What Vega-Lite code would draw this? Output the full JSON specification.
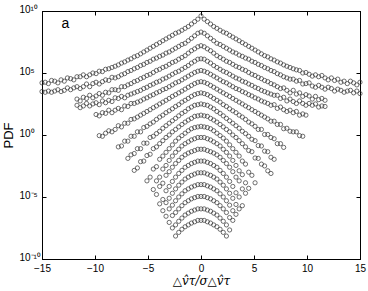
{
"$schema":"https://vega.github.io/schema/vega-lite/v6.json",
"width":318,"height":248,"autosize":"none",
"padding":{"left":42,"top":11,"right":8,"bottom":32},
"background":"white",
"config":{"view":{"stroke":"black","strokeWidth":1},"font":"Liberation Sans",
"axis":{"domainColor":"black","tickColor":"black","labelColor":"black","titleColor":"black","grid":false,"labelFont":"Liberation Sans","labelFontSize":10,"tickSize":-4,"tickWidth":1,"domainWidth":1,"labelOverlap":false,"labelFlush":false,"labelBound":false}},
"layer":[
{"data":{"values":[
{"x":-15,"y":1.6e4},{"x":-14.7,"y":1.8e4},{"x":-14.4,"y":1.4e4},{"x":-14.1,"y":2.5e4},{"x":-13.8,"y":2.2e4},{"x":-13.5,"y":1.6e4},{"x":-13.2,"y":2.8e4},{"x":-12.9,"y":2.2e4},{"x":-12.6,"y":4e4},{"x":-12.3,"y":3.5e4},{"x":-12,"y":2.8e4},{"x":-11.7,"y":5e4},{"x":-11.4,"y":5e4},{"x":-11.1,"y":7.1e4},{"x":-10.8,"y":5e4},{"x":-10.5,"y":7.1e4},{"x":-10.2,"y":1e5},{"x":-9.9,"y":8.9e4},{"x":-9.6,"y":1.4e5},{"x":-9.3,"y":1.3e5},{"x":-9,"y":2e5},{"x":-8.7,"y":2.2e5},{"x":-8.4,"y":2.8e5},{"x":-8.1,"y":3.5e5},{"x":-7.8,"y":4.5e5},{"x":-7.5,"y":6.3e5},{"x":-7.2,"y":7.9e5},{"x":-6.9,"y":1.1e6},{"x":-6.6,"y":1.4e6},{"x":-6.3,"y":2e6},{"x":-6,"y":2.5e6},{"x":-5.7,"y":3.5e6},{"x":-5.4,"y":5e6},{"x":-5.1,"y":7.1e6},{"x":-4.8,"y":1e7},{"x":-4.5,"y":1.4e7},{"x":-4.2,"y":2e7},{"x":-3.9,"y":2.8e7},{"x":-3.6,"y":4e7},{"x":-3.3,"y":5.6e7},{"x":-3,"y":7.9e7},{"x":-2.7,"y":1.1e8},{"x":-2.4,"y":1.6e8},{"x":-2.1,"y":2e8},{"x":-1.8,"y":2.8e8},{"x":-1.5,"y":4e8},{"x":-1.2,"y":5.6e8},{"x":-0.9,"y":8.9e8},{"x":-0.6,"y":1.4e9},{"x":-0.3,"y":2.2e9},{"x":0,"y":4e9},
{"x":0.3,"y":2.2e9},{"x":0.6,"y":1.4e9},{"x":0.9,"y":8.9e8},{"x":1.2,"y":5.6e8},{"x":1.5,"y":4e8},{"x":1.8,"y":2.8e8},{"x":2.1,"y":2e8},{"x":2.4,"y":1.6e8},{"x":2.7,"y":1.1e8},{"x":3,"y":7.9e7},{"x":3.3,"y":5.6e7},{"x":3.6,"y":4e7},{"x":3.9,"y":2.8e7},{"x":4.2,"y":2e7},{"x":4.5,"y":1.4e7},{"x":4.8,"y":1e7},{"x":5.1,"y":7.1e6},{"x":5.4,"y":5e6},{"x":5.7,"y":3.5e6},{"x":6,"y":2.5e6},{"x":6.3,"y":2e6},{"x":6.6,"y":1.4e6},{"x":6.9,"y":1.1e6},{"x":7.2,"y":7.9e5},{"x":7.5,"y":6.3e5},{"x":7.8,"y":4.5e5},{"x":8.1,"y":3.5e5},{"x":8.4,"y":2.8e5},{"x":8.7,"y":2.2e5},{"x":9,"y":1.8e5},{"x":9.3,"y":1.6e5},{"x":9.6,"y":1e5},{"x":9.9,"y":1.1e5},{"x":10.2,"y":7.9e4},{"x":10.5,"y":5.6e4},{"x":10.8,"y":7.1e4},{"x":11.1,"y":5e4},{"x":11.4,"y":6.3e4},{"x":11.7,"y":4e4},{"x":12,"y":2.8e4},{"x":12.3,"y":4e4},{"x":12.6,"y":2.5e4},{"x":12.9,"y":3.2e4},{"x":13.2,"y":1.8e4},{"x":13.5,"y":2.2e4},{"x":13.8,"y":1.4e4},{"x":14.1,"y":2.2e4},{"x":14.4,"y":1.6e4},{"x":14.7,"y":1.1e4},{"x":15,"y":1.8e4},

{"x":-15,"y":3.2e3},{"x":-14.7,"y":2.8e3},{"x":-14.4,"y":3.5e3},{"x":-14.1,"y":2.8e3},{"x":-13.8,"y":3.5e3},{"x":-13.5,"y":4.5e3},{"x":-13.2,"y":3.2e3},{"x":-12.9,"y":4e3},{"x":-12.6,"y":6.3e3},{"x":-12.3,"y":4.5e3},{"x":-12,"y":6.3e3},{"x":-11.7,"y":7.9e3},{"x":-11.4,"y":5.6e3},{"x":-11.1,"y":7.9e3},{"x":-10.8,"y":1.3e4},{"x":-10.5,"y":7.9e3},{"x":-10.2,"y":1.4e4},{"x":-9.9,"y":1.8e4},{"x":-9.6,"y":1.3e4},{"x":-9.3,"y":2e4},{"x":-9,"y":2.8e4},{"x":-8.7,"y":2.5e4},{"x":-8.4,"y":4.5e4},{"x":-8.1,"y":4e4},{"x":-7.8,"y":5e4},{"x":-7.5,"y":7.1e4},{"x":-7.2,"y":8.9e4},{"x":-6.9,"y":1.3e5},{"x":-6.6,"y":1.6e5},{"x":-6.3,"y":2.2e5},{"x":-6,"y":2.8e5},{"x":-5.7,"y":4e5},{"x":-5.4,"y":5e5},{"x":-5.1,"y":7.1e5},{"x":-4.8,"y":8.9e5},{"x":-4.5,"y":1.3e6},{"x":-4.2,"y":1.6e6},{"x":-3.9,"y":2.2e6},{"x":-3.6,"y":2.8e6},{"x":-3.3,"y":4e6},{"x":-3,"y":5e6},{"x":-2.7,"y":7.1e6},{"x":-2.4,"y":1e7},{"x":-2.1,"y":1.4e7},{"x":-1.8,"y":2e7},{"x":-1.5,"y":2.5e7},{"x":-1.2,"y":4e7},{"x":-0.9,"y":6.3e7},{"x":-0.6,"y":1e8},{"x":-0.3,"y":1.6e8},{"x":0,"y":2e8},
{"x":0.3,"y":1.6e8},{"x":0.6,"y":1e8},{"x":0.9,"y":6.3e7},{"x":1.2,"y":4e7},{"x":1.5,"y":2.5e7},{"x":1.8,"y":2e7},{"x":2.1,"y":1.4e7},{"x":2.4,"y":1e7},{"x":2.7,"y":7.1e6},{"x":3,"y":5e6},{"x":3.3,"y":4e6},{"x":3.6,"y":2.8e6},{"x":3.9,"y":2.2e6},{"x":4.2,"y":1.6e6},{"x":4.5,"y":1.3e6},{"x":4.8,"y":8.9e5},{"x":5.1,"y":7.1e5},{"x":5.4,"y":5e5},{"x":5.7,"y":4e5},{"x":6,"y":2.8e5},{"x":6.3,"y":2.2e5},{"x":6.6,"y":1.6e5},{"x":6.9,"y":1.3e5},{"x":7.2,"y":8.9e4},{"x":7.5,"y":7.1e4},{"x":7.8,"y":5e4},{"x":8.1,"y":4e4},{"x":8.4,"y":3.2e4},{"x":8.7,"y":3.2e4},{"x":9,"y":2.2e4},{"x":9.3,"y":2.5e4},{"x":9.6,"y":1.3e4},{"x":9.9,"y":1.4e4},{"x":10.2,"y":1.6e4},{"x":10.5,"y":8.9e3},{"x":10.8,"y":7.1e3},{"x":11.1,"y":1e4},{"x":11.4,"y":7.1e3},{"x":11.7,"y":5e3},{"x":12,"y":7.1e3},{"x":12.3,"y":5.6e3},{"x":12.6,"y":3.5e3},{"x":12.9,"y":5e3},{"x":13.2,"y":4e3},{"x":13.5,"y":2.8e3},{"x":13.8,"y":3.5e3},{"x":14.1,"y":4e3},{"x":14.4,"y":2.5e3},{"x":14.7,"y":3.5e3},{"x":15,"y":2.2e3},

{"x":-11.7,"y":7.9e2},{"x":-11.4,"y":5.6e2},{"x":-11.1,"y":1.1e3},{"x":-10.8,"y":8.9e2},{"x":-10.5,"y":1.6e3},{"x":-10.2,"y":1e3},{"x":-9.9,"y":1.4e3},{"x":-9.6,"y":2.2e3},{"x":-9.3,"y":1.6e3},{"x":-9,"y":2.8e3},{"x":-8.7,"y":2.5e3},{"x":-8.4,"y":4.5e3},{"x":-8.1,"y":4.5e3},{"x":-7.8,"y":4e3},{"x":-7.5,"y":7.9e3},{"x":-7.2,"y":7.9e3},{"x":-6.9,"y":1.1e4},{"x":-6.6,"y":1.4e4},{"x":-6.3,"y":2e4},{"x":-6,"y":2.5e4},{"x":-5.7,"y":3.5e4},{"x":-5.4,"y":4.5e4},{"x":-5.1,"y":6.3e4},{"x":-4.8,"y":7.9e4},{"x":-4.5,"y":1.1e5},{"x":-4.2,"y":1.6e5},{"x":-3.9,"y":2e5},{"x":-3.6,"y":2.8e5},{"x":-3.3,"y":3.5e5},{"x":-3,"y":5e5},{"x":-2.7,"y":7.1e5},{"x":-2.4,"y":8.9e5},{"x":-2.1,"y":1.3e6},{"x":-1.8,"y":1.8e6},{"x":-1.5,"y":2.5e6},{"x":-1.2,"y":4e6},{"x":-0.9,"y":6.3e6},{"x":-0.6,"y":8.9e6},{"x":-0.3,"y":1.3e7},{"x":0,"y":1.6e7},
{"x":0.3,"y":1.3e7},{"x":0.6,"y":8.9e6},{"x":0.9,"y":6.3e6},{"x":1.2,"y":4e6},{"x":1.5,"y":2.5e6},{"x":1.8,"y":1.8e6},{"x":2.1,"y":1.3e6},{"x":2.4,"y":8.9e5},{"x":2.7,"y":7.1e5},{"x":3,"y":5e5},{"x":3.3,"y":3.5e5},{"x":3.6,"y":2.8e5},{"x":3.9,"y":2e5},{"x":4.2,"y":1.6e5},{"x":4.5,"y":1.1e5},{"x":4.8,"y":7.9e4},{"x":5.1,"y":6.3e4},{"x":5.4,"y":4.5e4},{"x":5.7,"y":3.5e4},{"x":6,"y":2.5e4},{"x":6.3,"y":2e4},{"x":6.6,"y":1.4e4},{"x":6.9,"y":1.1e4},{"x":7.2,"y":7.9e3},{"x":7.5,"y":5.6e3},{"x":7.8,"y":6.3e3},{"x":8.1,"y":4e3},{"x":8.4,"y":2.5e3},{"x":8.7,"y":4e3},{"x":9,"y":2e3},{"x":9.3,"y":2.5e3},{"x":9.6,"y":1.3e3},{"x":9.9,"y":1.8e3},{"x":10.2,"y":1.4e3},{"x":10.5,"y":7.9e2},{"x":10.8,"y":1.3e3},{"x":11.1,"y":7.1e2},{"x":11.4,"y":8.9e2},{"x":11.7,"y":6.3e2},

{"x":-11.7,"y":2.5e2},{"x":-11.4,"y":1.6e2},{"x":-11.1,"y":2.2e2},{"x":-10.8,"y":3.5e2},{"x":-10.5,"y":2.2e2},{"x":-10.2,"y":3.2e2},{"x":-9.9,"y":4e2},{"x":-9.6,"y":2.8e2},{"x":-9.3,"y":5.6e2},{"x":-9,"y":4e2},{"x":-8.7,"y":6.3e2},{"x":-8.4,"y":5e2},{"x":-8.1,"y":1e3},{"x":-7.8,"y":8.9e2},{"x":-7.5,"y":1.3e3},{"x":-7.2,"y":1e3},{"x":-6.9,"y":1.6e3},{"x":-6.6,"y":2e3},{"x":-6.3,"y":2.5e3},{"x":-6,"y":3.2e3},{"x":-5.7,"y":4e3},{"x":-5.4,"y":5.6e3},{"x":-5.1,"y":7.1e3},{"x":-4.8,"y":1e4},{"x":-4.5,"y":1.3e4},{"x":-4.2,"y":1.8e4},{"x":-3.9,"y":2.2e4},{"x":-3.6,"y":3.2e4},{"x":-3.3,"y":4e4},{"x":-3,"y":5.6e4},{"x":-2.7,"y":7.9e4},{"x":-2.4,"y":1.1e5},{"x":-2.1,"y":1.4e5},{"x":-1.8,"y":2e5},{"x":-1.5,"y":2.8e5},{"x":-1.2,"y":4e5},{"x":-0.9,"y":6.3e5},{"x":-0.6,"y":8.9e5},{"x":-0.3,"y":1.3e6},{"x":0,"y":1.4e6},
{"x":0.3,"y":1.3e6},{"x":0.6,"y":8.9e5},{"x":0.9,"y":6.3e5},{"x":1.2,"y":4e5},{"x":1.5,"y":2.8e5},{"x":1.8,"y":2e5},{"x":2.1,"y":1.4e5},{"x":2.4,"y":1.1e5},{"x":2.7,"y":7.9e4},{"x":3,"y":5.6e4},{"x":3.3,"y":4e4},{"x":3.6,"y":3.2e4},{"x":3.9,"y":2.2e4},{"x":4.2,"y":1.8e4},{"x":4.5,"y":1.3e4},{"x":4.8,"y":1e4},{"x":5.1,"y":7.1e3},{"x":5.4,"y":5.6e3},{"x":5.7,"y":4e3},{"x":6,"y":3.2e3},{"x":6.3,"y":2.5e3},{"x":6.6,"y":2e3},{"x":6.9,"y":1.6e3},{"x":7.2,"y":1.6e3},{"x":7.5,"y":8.9e2},{"x":7.8,"y":1.1e3},{"x":8.1,"y":5.6e2},{"x":8.4,"y":7.9e2},{"x":8.7,"y":5e2},{"x":9,"y":3.5e2},{"x":9.3,"y":5.6e2},{"x":9.6,"y":3.5e2},{"x":9.9,"y":2.5e2},{"x":10.2,"y":3.5e2},{"x":10.5,"y":2.5e2},{"x":10.8,"y":3.2e2},{"x":11.1,"y":1.8e2},{"x":11.4,"y":2.2e2},{"x":11.7,"y":2e2},

{"x":-9.9,"y":4.5e1},{"x":-9.6,"y":3.5e1},{"x":-9.3,"y":6.3e1},{"x":-9,"y":5.6e1},{"x":-8.7,"y":1e2},{"x":-8.4,"y":6.3e1},{"x":-8.1,"y":1e2},{"x":-7.8,"y":1.4e2},{"x":-7.5,"y":1.1e2},{"x":-7.2,"y":2.2e2},{"x":-6.9,"y":2e2},{"x":-6.6,"y":3.5e2},{"x":-6.3,"y":3.5e2},{"x":-6,"y":4.5e2},{"x":-5.7,"y":5.6e2},{"x":-5.4,"y":7.9e2},{"x":-5.1,"y":1e3},{"x":-4.8,"y":1.4e3},{"x":-4.5,"y":1.8e3},{"x":-4.2,"y":2.5e3},{"x":-3.9,"y":3.2e3},{"x":-3.6,"y":4.5e3},{"x":-3.3,"y":5.6e3},{"x":-3,"y":7.9e3},{"x":-2.7,"y":1.1e4},{"x":-2.4,"y":1.6e4},{"x":-2.1,"y":2e4},{"x":-1.8,"y":2.8e4},{"x":-1.5,"y":4e4},{"x":-1.2,"y":5.6e4},{"x":-0.9,"y":7.9e4},{"x":-0.6,"y":1.1e5},{"x":-0.3,"y":1.4e5},{"x":0,"y":1.6e5},
{"x":0.3,"y":1.4e5},{"x":0.6,"y":1.1e5},{"x":0.9,"y":7.9e4},{"x":1.2,"y":5.6e4},{"x":1.5,"y":4e4},{"x":1.8,"y":2.8e4},{"x":2.1,"y":2e4},{"x":2.4,"y":1.6e4},{"x":2.7,"y":1.1e4},{"x":3,"y":7.9e3},{"x":3.3,"y":5.6e3},{"x":3.6,"y":4.5e3},{"x":3.9,"y":3.2e3},{"x":4.2,"y":2.5e3},{"x":4.5,"y":1.8e3},{"x":4.8,"y":1.4e3},{"x":5.1,"y":1e3},{"x":5.4,"y":7.9e2},{"x":5.7,"y":5.6e2},{"x":6,"y":4.5e2},{"x":6.3,"y":3.5e2},{"x":6.6,"y":2.5e2},{"x":6.9,"y":2.8e2},{"x":7.2,"y":1.4e2},{"x":7.5,"y":1.8e2},{"x":7.8,"y":1.1e2},{"x":8.1,"y":7.9e1},{"x":8.4,"y":1e2},{"x":8.7,"y":6.3e1},{"x":9,"y":7.9e1},{"x":9.3,"y":4e1},{"x":9.6,"y":5e1},{"x":9.9,"y":4e1},

{"x":-9.6,"y":8.9e-1},{"x":-9.3,"y":7.9e-1},{"x":-9,"y":1.4},{"x":-8.7,"y":2.2},{"x":-8.4,"y":1.8},{"x":-8.1,"y":2.8},{"x":-7.8,"y":5.6},{"x":-7.5,"y":4.5},{"x":-7.2,"y":8.9},{"x":-6.9,"y":8.9},{"x":-6.6,"y":1.8e1},{"x":-6.3,"y":2e1},{"x":-6,"y":2.8e1},{"x":-5.7,"y":4e1},{"x":-5.4,"y":5.6e1},{"x":-5.1,"y":7.9e1},{"x":-4.8,"y":1.1e2},{"x":-4.5,"y":1.6e2},{"x":-4.2,"y":2.2e2},{"x":-3.9,"y":3.2e2},{"x":-3.6,"y":4.5e2},{"x":-3.3,"y":6.3e2},{"x":-3,"y":8.9e2},{"x":-2.7,"y":1.3e3},{"x":-2.4,"y":1.8e3},{"x":-2.1,"y":2.5e3},{"x":-1.8,"y":3.5e3},{"x":-1.5,"y":5e3},{"x":-1.2,"y":7.1e3},{"x":-0.9,"y":1e4},{"x":-0.6,"y":1.4e4},{"x":-0.3,"y":1.8e4},{"x":0,"y":2e4},
{"x":0.3,"y":1.8e4},{"x":0.6,"y":1.4e4},{"x":0.9,"y":1e4},{"x":1.2,"y":7.1e3},{"x":1.5,"y":5e3},{"x":1.8,"y":3.5e3},{"x":2.1,"y":2.5e3},{"x":2.4,"y":1.8e3},{"x":2.7,"y":1.3e3},{"x":3,"y":8.9e2},{"x":3.3,"y":6.3e2},{"x":3.6,"y":4.5e2},{"x":3.9,"y":3.2e2},{"x":4.2,"y":2.2e2},{"x":4.5,"y":1.6e2},{"x":4.8,"y":1.1e2},{"x":5.1,"y":7.9e1},{"x":5.4,"y":5.6e1},{"x":5.7,"y":4e1},{"x":6,"y":2.8e1},{"x":6.3,"y":2e1},{"x":6.6,"y":1.3e1},{"x":6.9,"y":1.3e1},{"x":7.2,"y":7.1},{"x":7.5,"y":7.1},{"x":7.8,"y":3.2},{"x":8.1,"y":3.5},{"x":8.4,"y":2},{"x":8.7,"y":1.8},{"x":9,"y":1.8},{"x":9.3,"y":8.9e-1},{"x":9.6,"y":7.9e-1},

{"x":-7.8,"y":1.1e-1},{"x":-7.5,"y":1.3e-1},{"x":-7.2,"y":3.2e-1},{"x":-6.9,"y":3.2e-1},{"x":-6.6,"y":7.9e-1},{"x":-6.3,"y":7.9e-1},{"x":-6,"y":1.8},{"x":-5.7,"y":1.8},{"x":-5.4,"y":4},{"x":-5.1,"y":5},{"x":-4.8,"y":7.9},{"x":-4.5,"y":1.1e1},{"x":-4.2,"y":1.8e1},{"x":-3.9,"y":2.8e1},{"x":-3.6,"y":4e1},{"x":-3.3,"y":6.3e1},{"x":-3,"y":8.9e1},{"x":-2.7,"y":1.3e2},{"x":-2.4,"y":2e2},{"x":-2.1,"y":2.8e2},{"x":-1.8,"y":4.5e2},{"x":-1.5,"y":6.3e2},{"x":-1.2,"y":8.9e2},{"x":-0.9,"y":1.3e3},{"x":-0.6,"y":1.8e3},{"x":-0.3,"y":2.2e3},{"x":0,"y":2.5e3},
{"x":0.3,"y":2.2e3},{"x":0.6,"y":1.8e3},{"x":0.9,"y":1.3e3},{"x":1.2,"y":8.9e2},{"x":1.5,"y":6.3e2},{"x":1.8,"y":4.5e2},{"x":2.1,"y":2.8e2},{"x":2.4,"y":2e2},{"x":2.7,"y":1.3e2},{"x":3,"y":8.9e1},{"x":3.3,"y":6.3e1},{"x":3.6,"y":4e1},{"x":3.9,"y":2.8e1},{"x":4.2,"y":1.8e1},{"x":4.5,"y":1.1e1},{"x":4.8,"y":7.9},{"x":5.1,"y":5},{"x":5.4,"y":2.8},{"x":5.7,"y":2.8},{"x":6,"y":1.1},{"x":6.3,"y":1.1},{"x":6.6,"y":6.3e-1},{"x":6.9,"y":5e-1},{"x":7.2,"y":2e-1},{"x":7.5,"y":2e-1},{"x":7.8,"y":1e-1},

{"x":-6.9,"y":1.3e-2},{"x":-6.6,"y":2.5e-2},{"x":-6.3,"y":3.2e-2},{"x":-6,"y":7.9e-2},{"x":-5.7,"y":7.9e-2},{"x":-5.4,"y":2.2e-1},{"x":-5.1,"y":2.2e-1},{"x":-4.8,"y":6.3e-1},{"x":-4.5,"y":7.9e-1},{"x":-4.2,"y":1.3},{"x":-3.9,"y":2},{"x":-3.6,"y":3.5},{"x":-3.3,"y":5.6},{"x":-3,"y":8.9},{"x":-2.7,"y":1.4e1},{"x":-2.4,"y":2.2e1},{"x":-2.1,"y":3.5e1},{"x":-1.8,"y":5.6e1},{"x":-1.5,"y":7.9e1},{"x":-1.2,"y":1.3e2},{"x":-0.9,"y":1.8e2},{"x":-0.6,"y":2.5e2},{"x":-0.3,"y":2.8e2},{"x":0,"y":3.2e2},
{"x":0.3,"y":2.8e2},{"x":0.6,"y":2.5e2},{"x":0.9,"y":1.8e2},{"x":1.2,"y":1.3e2},{"x":1.5,"y":7.9e1},{"x":1.8,"y":5.6e1},{"x":2.1,"y":3.5e1},{"x":2.4,"y":2.2e1},{"x":2.7,"y":1.4e1},{"x":3,"y":8.9},{"x":3.3,"y":5.6},{"x":3.6,"y":3.5},{"x":3.9,"y":2},{"x":4.2,"y":1.3},{"x":4.5,"y":7.9e-1},{"x":4.8,"y":4.5e-1},{"x":5.1,"y":3.5e-1},{"x":5.4,"y":1.4e-1},{"x":5.7,"y":1.3e-1},{"x":6,"y":5e-2},{"x":6.3,"y":4.5e-2},{"x":6.6,"y":1.6e-2},{"x":6.9,"y":1.1e-2},

{"x":-6.3,"y":1.4e-3},{"x":-6,"y":2.2e-3},{"x":-5.7,"y":7.1e-3},{"x":-5.4,"y":7.9e-3},{"x":-5.1,"y":2.2e-2},{"x":-4.8,"y":2.8e-2},{"x":-4.5,"y":7.9e-2},{"x":-4.2,"y":1.1e-1},{"x":-3.9,"y":2e-1},{"x":-3.6,"y":3.5e-1},{"x":-3.3,"y":6.3e-1},{"x":-3,"y":1},{"x":-2.7,"y":1.8},{"x":-2.4,"y":2.8},{"x":-2.1,"y":4.5},{"x":-1.8,"y":7.1},{"x":-1.5,"y":1.1e1},{"x":-1.2,"y":1.6e1},{"x":-0.9,"y":2.2e1},{"x":-0.6,"y":3.2e1},{"x":-0.3,"y":3.5e1},{"x":0,"y":4e1},
{"x":0.3,"y":3.5e1},{"x":0.6,"y":3.2e1},{"x":0.9,"y":2.2e1},{"x":1.2,"y":1.6e1},{"x":1.5,"y":1.1e1},{"x":1.8,"y":7.1},{"x":2.1,"y":4.5},{"x":2.4,"y":2.8},{"x":2.7,"y":1.8},{"x":3,"y":1},{"x":3.3,"y":6.3e-1},{"x":3.6,"y":3.5e-1},{"x":3.9,"y":2e-1},{"x":4.2,"y":1.1e-1},{"x":4.5,"y":5.6e-2},{"x":4.8,"y":4.5e-2},{"x":5.1,"y":1.4e-2},{"x":5.4,"y":1.3e-2},{"x":5.7,"y":4.5e-3},{"x":6,"y":3.2e-3},{"x":6.3,"y":1.3e-3},{"x":6.6,"y":7.9e-4},

{"x":-5.1,"y":2e-4},{"x":-4.8,"y":4e-4},{"x":-4.5,"y":1.8e-3},{"x":-4.2,"y":2.8e-3},{"x":-3.9,"y":1.1e-2},{"x":-3.6,"y":2e-2},{"x":-3.3,"y":4e-2},{"x":-3,"y":7.9e-2},{"x":-2.7,"y":1.6e-1},{"x":-2.4,"y":3.2e-1},{"x":-2.1,"y":5.6e-1},{"x":-1.8,"y":8.9e-1},{"x":-1.5,"y":1.4},{"x":-1.2,"y":2.2},{"x":-0.9,"y":3.2},{"x":-0.6,"y":4},{"x":-0.3,"y":4.5},{"x":0,"y":5},
{"x":0.3,"y":4.5},{"x":0.6,"y":4},{"x":0.9,"y":3.2},{"x":1.2,"y":2.2},{"x":1.5,"y":1.4},{"x":1.8,"y":8.9e-1},{"x":2.1,"y":5.6e-1},{"x":2.4,"y":3.2e-1},{"x":2.7,"y":1.6e-1},{"x":3,"y":7.9e-2},{"x":3.3,"y":4e-2},{"x":3.6,"y":2e-2},{"x":3.9,"y":7.9e-3},{"x":4.2,"y":4.5e-3},{"x":4.5,"y":1e-3},{"x":4.8,"y":5.6e-4},{"x":5.1,"y":1.4e-4},

{"x":-4.5,"y":4e-5},{"x":-4.2,"y":2e-4},{"x":-3.9,"y":4e-4},{"x":-3.6,"y":1.8e-3},{"x":-3.3,"y":3.5e-3},{"x":-3,"y":8.9e-3},{"x":-2.7,"y":2e-2},{"x":-2.4,"y":4e-2},{"x":-2.1,"y":7.1e-2},{"x":-1.8,"y":1.3e-1},{"x":-1.5,"y":2e-1},{"x":-1.2,"y":2.8e-1},{"x":-0.9,"y":4e-1},{"x":-0.6,"y":5e-1},{"x":-0.3,"y":6.3e-1},{"x":0,"y":6.3e-1},
{"x":0.3,"y":6.3e-1},{"x":0.6,"y":5e-1},{"x":0.9,"y":4e-1},{"x":1.2,"y":2.8e-1},{"x":1.5,"y":2e-1},{"x":1.8,"y":1.3e-1},{"x":2.1,"y":7.1e-2},{"x":2.4,"y":4e-2},{"x":2.7,"y":2e-2},{"x":3,"y":8.9e-3},{"x":3.3,"y":3.5e-3},{"x":3.6,"y":1.3e-3},{"x":3.9,"y":6.3e-4},{"x":4.2,"y":1.4e-4},{"x":4.5,"y":5e-5},

{"x":-4.2,"y":1.6e-5},{"x":-3.9,"y":7.1e-5},{"x":-3.6,"y":1.3e-4},{"x":-3.3,"y":5.6e-4},{"x":-3,"y":1.1e-3},{"x":-2.7,"y":2.5e-3},{"x":-2.4,"y":5e-3},{"x":-2.1,"y":8.9e-3},{"x":-1.8,"y":1.6e-2},{"x":-1.5,"y":2.5e-2},{"x":-1.2,"y":3.5e-2},{"x":-0.9,"y":4.5e-2},{"x":-0.6,"y":5.6e-2},{"x":-0.3,"y":7.1e-2},{"x":0,"y":7.1e-2},
{"x":0.3,"y":7.1e-2},{"x":0.6,"y":5.6e-2},{"x":0.9,"y":4.5e-2},{"x":1.2,"y":3.5e-2},{"x":1.5,"y":2.5e-2},{"x":1.8,"y":1.6e-2},{"x":2.1,"y":8.9e-3},{"x":2.4,"y":5e-3},{"x":2.7,"y":2.5e-3},{"x":3,"y":1.1e-3},{"x":3.3,"y":4e-4},{"x":3.6,"y":2e-4},{"x":3.9,"y":4.5e-5},{"x":4.2,"y":2e-5},

{"x":-3.9,"y":2.8e-6},{"x":-3.6,"y":6.3e-6},{"x":-3.3,"y":3.2e-5},{"x":-3,"y":7.1e-5},{"x":-2.7,"y":1.8e-4},{"x":-2.4,"y":4e-4},{"x":-2.1,"y":7.9e-4},{"x":-1.8,"y":1.4e-3},{"x":-1.5,"y":2.5e-3},{"x":-1.2,"y":3.5e-3},{"x":-0.9,"y":5e-3},{"x":-0.6,"y":6.3e-3},{"x":-0.3,"y":7.9e-3},{"x":0,"y":7.9e-3},
{"x":0.3,"y":7.9e-3},{"x":0.6,"y":6.3e-3},{"x":0.9,"y":5e-3},{"x":1.2,"y":3.5e-3},{"x":1.5,"y":2.5e-3},{"x":1.8,"y":1.4e-3},{"x":2.1,"y":7.9e-4},{"x":2.4,"y":4e-4},{"x":2.7,"y":1.8e-4},{"x":3,"y":7.1e-5},{"x":3.3,"y":2.2e-5},{"x":3.6,"y":1e-5},{"x":3.9,"y":2e-6},

{"x":-3.6,"y":7.9e-7},{"x":-3.3,"y":3.5e-6},{"x":-3,"y":7.9e-6},{"x":-2.7,"y":2e-5},{"x":-2.4,"y":4.5e-5},{"x":-2.1,"y":8.9e-5},{"x":-1.8,"y":1.6e-4},{"x":-1.5,"y":2.8e-4},{"x":-1.2,"y":4e-4},{"x":-0.9,"y":5.6e-4},{"x":-0.6,"y":7.1e-4},{"x":-0.3,"y":8.9e-4},{"x":0,"y":8.9e-4},
{"x":0.3,"y":8.9e-4},{"x":0.6,"y":7.1e-4},{"x":0.9,"y":5.6e-4},{"x":1.2,"y":4e-4},{"x":1.5,"y":2.8e-4},{"x":1.8,"y":1.6e-4},{"x":2.1,"y":8.9e-5},{"x":2.4,"y":4.5e-5},{"x":2.7,"y":2e-5},{"x":3,"y":7.9e-6},{"x":3.3,"y":2.5e-6},{"x":3.6,"y":1.1e-6},

{"x":-3.3,"y":2.8e-7},{"x":-3,"y":1.1e-6},{"x":-2.7,"y":2.2e-6},{"x":-2.4,"y":5e-6},{"x":-2.1,"y":1e-5},{"x":-1.8,"y":1.8e-5},{"x":-1.5,"y":3.2e-5},{"x":-1.2,"y":4.5e-5},{"x":-0.9,"y":6.3e-5},{"x":-0.6,"y":7.9e-5},{"x":-0.3,"y":1e-4},{"x":0,"y":1e-4},
{"x":0.3,"y":1e-4},{"x":0.6,"y":7.9e-5},{"x":0.9,"y":6.3e-5},{"x":1.2,"y":4.5e-5},{"x":1.5,"y":3.2e-5},{"x":1.8,"y":1.8e-5},{"x":2.1,"y":1e-5},{"x":2.4,"y":5e-6},{"x":2.7,"y":2.2e-6},{"x":3,"y":7.9e-7},{"x":3.3,"y":4e-7},

{"x":-3,"y":8.9e-8},{"x":-2.7,"y":3.2e-7},{"x":-2.4,"y":5.6e-7},{"x":-2.1,"y":1.1e-6},{"x":-1.8,"y":2e-6},{"x":-1.5,"y":3.5e-6},{"x":-1.2,"y":5e-6},{"x":-0.9,"y":7.1e-6},{"x":-0.6,"y":8.9e-6},{"x":-0.3,"y":1.1e-5},{"x":0,"y":1.1e-5},
{"x":0.3,"y":1.1e-5},{"x":0.6,"y":8.9e-6},{"x":0.9,"y":7.1e-6},{"x":1.2,"y":5e-6},{"x":1.5,"y":3.5e-6},{"x":1.8,"y":2e-6},{"x":2.1,"y":1.1e-6},{"x":2.4,"y":5.6e-7},{"x":2.7,"y":2.2e-7},{"x":3,"y":1.3e-7},

{"x":-2.7,"y":3.2e-8},{"x":-2.4,"y":5.6e-8},{"x":-2.1,"y":1.1e-7},{"x":-1.8,"y":2e-7},{"x":-1.5,"y":3.5e-7},{"x":-1.2,"y":5e-7},{"x":-0.9,"y":7.1e-7},{"x":-0.6,"y":8.9e-7},{"x":-0.3,"y":1.1e-6},{"x":0,"y":1.1e-6},
{"x":0.3,"y":1.1e-6},{"x":0.6,"y":8.9e-7},{"x":0.9,"y":7.1e-7},{"x":1.2,"y":5e-7},{"x":1.5,"y":3.5e-7},{"x":1.8,"y":2e-7},{"x":2.1,"y":1.1e-7},{"x":2.4,"y":5.6e-8},{"x":2.7,"y":2.2e-8},

{"x":-2.4,"y":7.1e-9},{"x":-2.1,"y":1.4e-8},{"x":-1.8,"y":2.5e-8},{"x":-1.5,"y":4e-8},{"x":-1.2,"y":5.6e-8},{"x":-0.9,"y":7.9e-8},{"x":-0.6,"y":1e-7},{"x":-0.3,"y":1.3e-7},{"x":0,"y":1.3e-7},
{"x":0.3,"y":1.3e-7},{"x":0.6,"y":1e-7},{"x":0.9,"y":7.9e-8},{"x":1.2,"y":5.6e-8},{"x":1.5,"y":4e-8},{"x":1.8,"y":2.5e-8},{"x":2.1,"y":1.4e-8},{"x":2.4,"y":7.1e-9}
]},
"mark":{"type":"point","shape":"circle","filled":false,"size":18,"stroke":"#333333","strokeWidth":0.7,"opacity":1},
"encoding":{
"x":{"field":"x","type":"quantitative","scale":{"domain":[-15,15],"nice":false,"zero":false},"axis":{"values":[-15,-10,-5,0,5,10,15],"labelPadding":8,"title":"△v\u0302τ/σ△v\u0302τ","titleFont":"DejaVu Serif","titleFontSize":12,"titleFontWeight":"normal","titleFontStyle":"italic","titlePadding":2}},
"y":{"field":"y","type":"quantitative","scale":{"type":"log","domain":[1e-10,1e10],"nice":false},"axis":{"values":[1e-10,1e-5,1,1e5,1e10],"labelExpr":"datum.value >= 1e9 ? '10\u00b9\u2070' : datum.value >= 1e4 ? '10\u2075' : datum.value >= 0.5 ? '10\u2070' : datum.value >= 1e-6 ? '10\u207b\u2075' : '10\u207b\u00b9\u2070'","labelAlign":"left","labelBaseline":"middle","labelOffset":-1.5,"labelPadding":27,"title":"PDF","titleFont":"Liberation Sans","titleFontSize":13,"titleFontWeight":"normal","titlePadding":4}}
}},
{"data":{"values":[{"x":-12.8,"y":8.9e8,"t":"a"}]},
"mark":{"type":"text","font":"Liberation Sans","fontSize":14,"align":"center","baseline":"middle","color":"black"},
"encoding":{
"x":{"field":"x","type":"quantitative","scale":{"domain":[-15,15],"nice":false,"zero":false},"axis":{"orient":"top","values":[-15,-10,-5,0,5,10,15],"labels":false,"title":null}},
"y":{"field":"y","type":"quantitative","scale":{"type":"log","domain":[1e-10,1e10],"nice":false},"axis":{"orient":"right","values":[1e-10,1e-5,1,1e5,1e10],"labels":false,"title":null}},
"text":{"field":"t"}}}
],
"resolve":{"axis":{"x":"independent","y":"independent"}}
}
